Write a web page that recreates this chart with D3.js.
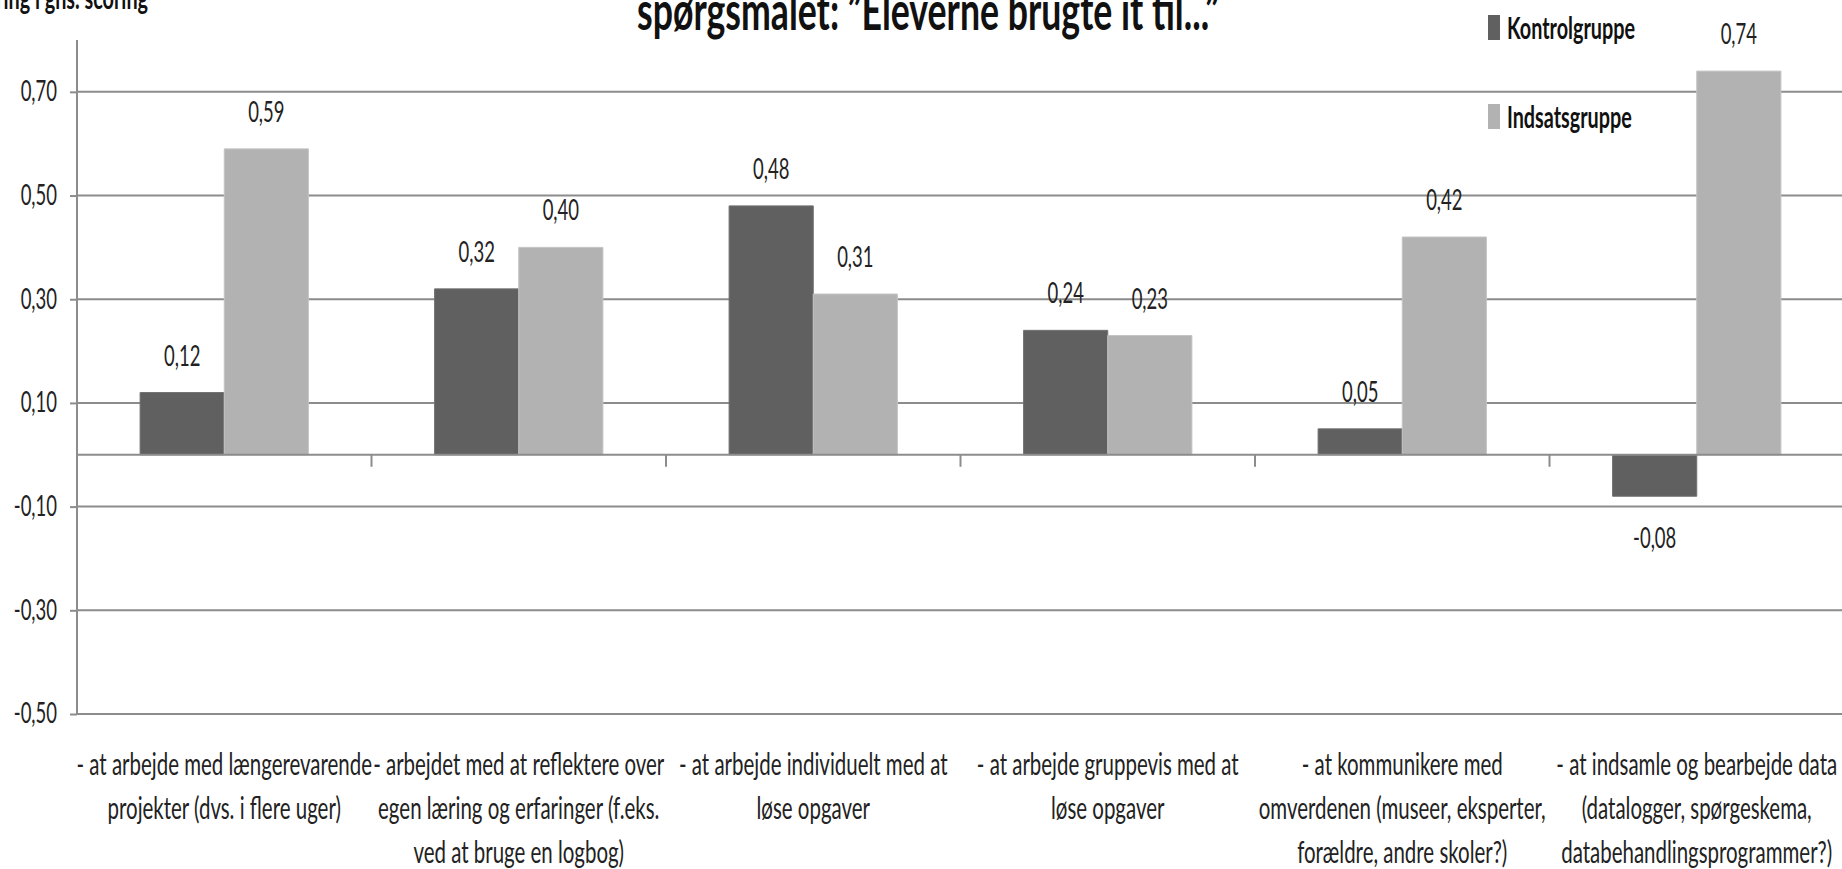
<!DOCTYPE html>
<html>
<head>
<meta charset="utf-8">
<script src="https://cdn.jsdelivr.net/npm/d3@7"></script>
<style>
  html, body { margin: 0; padding: 0; background: #fff; }
  svg { display: block; font-family: Lato, "Open Sans", sans-serif; }
</style>
</head>
<body>
<div id="chart"></div>
<script>
// data
const categories = [
  "- at arbejde med længerevarende|projekter (dvs. i flere uger)",
  "- arbejdet med at reflektere over|egen læring og erfaringer (f.eks.|ved at bruge en logbog)",
  "- at arbejde individuelt med at|løse opgaver",
  "- at arbejde gruppevis med at|løse opgaver",
  "- at kommunikere med|omverdenen (museer, eksperter,|forældre, andre skoler?)",
  "- at indsamle og bearbejde data|(datalogger, spørgeskema,|databehandlingsprogrammer?)"
];
const seriesNames = ["Kontrolgruppe", "Indsatsgruppe"];
const kontrol = [0.12, 0.32, 0.48, 0.24, 0.05, -0.08];
const indsats = [0.59, 0.40, 0.31, 0.23, 0.42, 0.74];
const yTicks = [-0.5, -0.3, -0.1, 0.1, 0.3, 0.5, 0.7];
const colors = ["#606060", "#b2b2b2"];

const width = 1842, height = 869;
// the source picture is squeezed sideways, so everything is drawn in a group scaled on x
const sx = 0.66;
const X = v => v / sx;

const locale = d3.formatLocale({decimal: ",", thousands: ".", grouping: [3], currency: ["", ""], minus: "-"});
const fmt = locale.format(".2f");

const svg = d3.select("#chart").append("svg")
  .attr("width", width)
  .attr("height", height);

const root = svg.append("g").attr("transform", `scale(${sx},1)`);

const x0 = d3.scaleBand()
  .domain(d3.range(categories.length))
  .range([X(77), X(1844)])
  .padding(0);

const x1 = d3.scaleBand()
  .domain(d3.range(seriesNames.length))
  .range([0, x0.bandwidth()])
  .paddingInner(0)
  .paddingOuter(0.75);

const y = d3.scaleLinear()
  .domain([-0.5, 0.8])
  .range([714, 40]);

const gridColor = "#8c8c8c";

// gridlines
root.append("g").selectAll("line")
  .data(yTicks)
  .join("line")
  .attr("x1", X(77)).attr("x2", X(1842))
  .attr("y1", d => y(d)).attr("y2", d => y(d))
  .attr("stroke", gridColor)
  .attr("stroke-width", 2)
  .attr("vector-effect", "non-scaling-stroke");

// y axis
const yAxis = root.append("g")
  .attr("transform", `translate(${X(77)},0)`)
  .call(d3.axisLeft(y).tickValues(yTicks).tickFormat(fmt).tickSize(X(7)).tickPadding(X(13)));
yAxis.select(".domain")
  .attr("d", `M0,${y(0.8)}V${y(-0.5)}`)
  .attr("stroke", gridColor)
  .attr("stroke-width", 2)
  .attr("vector-effect", "non-scaling-stroke");
yAxis.selectAll(".tick line")
  .attr("stroke", gridColor)
  .attr("stroke-width", 2)
  .attr("vector-effect", "non-scaling-stroke");
yAxis.selectAll(".tick text")
  .attr("fill", "#222")
  .style("font-size", "28px")
  .style("font-family", "Lato, sans-serif");

// bars
const groups = root.append("g").selectAll("g")
  .data(categories.map((c, i) => [kontrol[i], indsats[i]]))
  .join("g")
  .attr("transform", (d, i) => `translate(${x0(i)},0)`);

groups.selectAll("rect")
  .data(d => d.map((v, j) => ({v, j})))
  .join("rect")
  .attr("x", d => x1(d.j))
  .attr("width", x1.bandwidth())
  .attr("y", d => y(Math.max(0, d.v)))
  .attr("height", d => Math.abs(y(d.v) - y(0)))
  .attr("fill", d => colors[d.j])
  .attr("stroke", d => d.j === 0 ? "#707070" : "#c4c4c4")
  .attr("stroke-width", 1)
  .attr("vector-effect", "non-scaling-stroke");

// value labels
groups.selectAll("text")
  .data(d => d.map((v, j) => ({v, j})))
  .join("text")
  .attr("x", d => x1(d.j) + x1.bandwidth() / 2)
  .attr("y", d => d.v >= 0 ? y(d.v) - 27 : y(d.v) + 52)
  .attr("text-anchor", "middle")
  .attr("fill", "#222")
  .style("font-size", "28px")
  .text(d => fmt(d.v));

// x axis (zero line + category ticks)
root.append("line")
  .attr("x1", X(77)).attr("x2", X(1844))
  .attr("y1", y(0)).attr("y2", y(0))
  .attr("stroke", gridColor)
  .attr("stroke-width", 2)
  .attr("vector-effect", "non-scaling-stroke");

root.append("g").selectAll("line")
  .data(d3.range(1, categories.length))
  .join("line")
  .attr("x1", d => x0(d)).attr("x2", d => x0(d))
  .attr("y1", y(0)).attr("y2", y(0) + 12)
  .attr("stroke", gridColor)
  .attr("stroke-width", 2)
  .attr("vector-effect", "non-scaling-stroke");

// category labels
const catLabels = root.append("g").selectAll("text")
  .data(categories)
  .join("text")
  .attr("text-anchor", "middle")
  .attr("fill", "#222")
  .style("font-size", "31px");
catLabels.selectAll("tspan")
  .data((d, i) => d.split("|").map(t => ({t, i})))
  .join("tspan")
  .attr("x", d => x0(d.i) + x0.bandwidth() / 2)
  .attr("y", (d, k) => 775 + k * 44)
  .text(d => d.t);

// legend
const legend = root.append("g").selectAll("g")
  .data(seriesNames)
  .join("g")
  .attr("transform", (d, i) => `translate(0,${i * 89})`);
legend.append("rect")
  .attr("x", X(1488)).attr("y", 15)
  .attr("width", X(12)).attr("height", 25)
  .attr("fill", (d, i) => colors[i]);
legend.append("text")
  .attr("x", X(1507)).attr("y", 39)
  .attr("fill", "#111")
  .style("font-size", "30px")
  .style("font-weight", "bold")
  .text(d => d);

// title (cut by the top edge as in the source)
root.append("text")
  .attr("x", X(928)).attr("y", 30)
  .attr("text-anchor", "middle")
  .attr("fill", "#111")
  .style("font-size", "54px")
  .style("font-weight", "bold")
  .text("spørgsmålet:  \u201dEleverne brugte it til...\u201d");

// y axis title, also cut
root.append("text")
  .attr("x", X(148)).attr("y", 9)
  .attr("text-anchor", "end")
  .attr("fill", "#111")
  .style("font-size", "30px")
  .style("font-weight", "bold")
  .text("Ændring i gns. scoring");
</script>
</body>
</html>
